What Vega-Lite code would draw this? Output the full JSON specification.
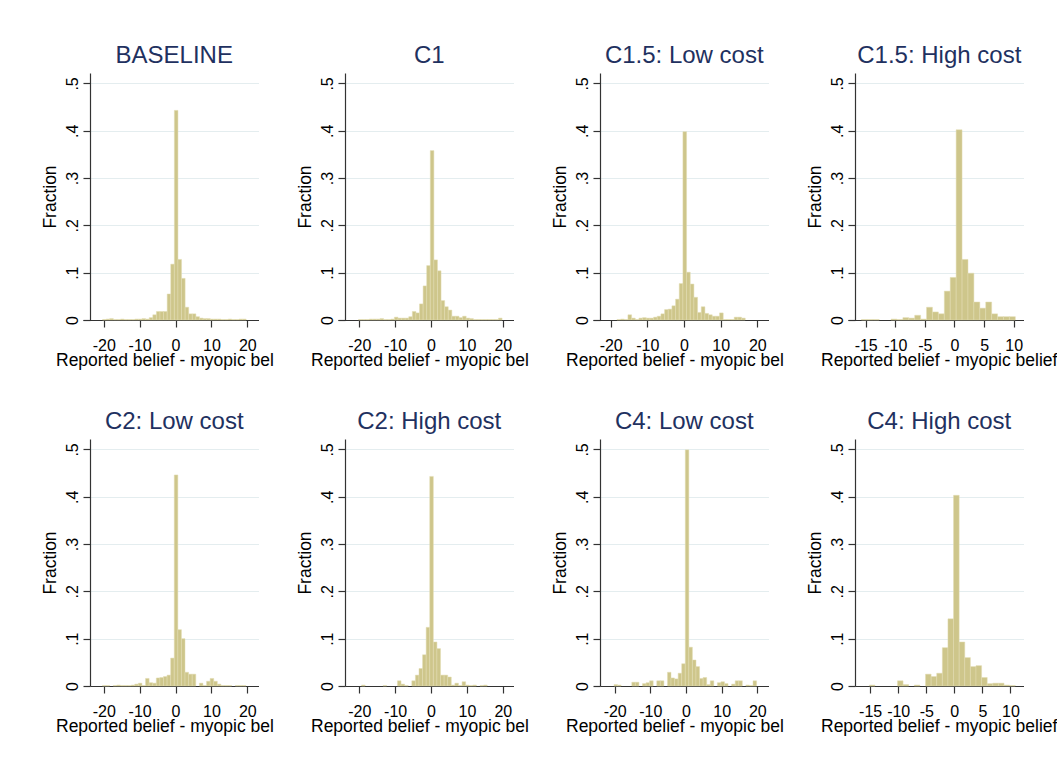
{
  "$schema": "https://vega.github.io/schema/vega-lite/v6.json",
  "padding": {"left": 40, "top": 44, "right": 0, "bottom": 5},
  "background": "white",
  "datasets": {
    "base": [
      {"lo": -20.32, "hi": -19.32, "f": 0.001}, {"lo": -19.32, "hi": -18.32, "f": 0.002}, {"lo": -18.32, "hi": -17.32, "f": 0.003},
      {"lo": -17.32, "hi": -16.32, "f": 0.001}, {"lo": -16.32, "hi": -15.32, "f": 0.001}, {"lo": -15.32, "hi": -14.32, "f": 0.002},
      {"lo": -14.32, "hi": -13.32, "f": 0.001}, {"lo": -13.32, "hi": -12.32, "f": 0.001}, {"lo": -12.32, "hi": -11.32, "f": 0.001},
      {"lo": -11.32, "hi": -10.32, "f": 0.002}, {"lo": -10.32, "hi": -9.32, "f": 0.002}, {"lo": -9.32, "hi": -8.32, "f": 0.003},
      {"lo": -8.32, "hi": -7.32, "f": 0.002}, {"lo": -7.32, "hi": -6.32, "f": 0.005}, {"lo": -6.32, "hi": -5.32, "f": 0.011},
      {"lo": -5.32, "hi": -4.32, "f": 0.018}, {"lo": -4.32, "hi": -3.32, "f": 0.018}, {"lo": -3.32, "hi": -2.32, "f": 0.018},
      {"lo": -2.32, "hi": -1.32, "f": 0.055}, {"lo": -1.32, "hi": -0.32, "f": 0.118}, {"lo": -0.32, "hi": 0.68, "f": 0.443},
      {"lo": 0.68, "hi": 1.68, "f": 0.128}, {"lo": 1.68, "hi": 2.68, "f": 0.088}, {"lo": 2.68, "hi": 3.68, "f": 0.027},
      {"lo": 3.68, "hi": 4.68, "f": 0.013}, {"lo": 4.68, "hi": 5.68, "f": 0.013}, {"lo": 5.68, "hi": 6.68, "f": 0.007},
      {"lo": 6.68, "hi": 7.68, "f": 0.004}, {"lo": 7.68, "hi": 8.68, "f": 0.003}, {"lo": 8.68, "hi": 9.68, "f": 0.003},
      {"lo": 9.68, "hi": 10.68, "f": 0.002}, {"lo": 10.68, "hi": 11.68, "f": 0.002}, {"lo": 11.68, "hi": 12.68, "f": 0.002},
      {"lo": 12.68, "hi": 13.68, "f": 0.001}, {"lo": 13.68, "hi": 14.68, "f": 0.001}, {"lo": 14.68, "hi": 15.68, "f": 0.002},
      {"lo": 15.68, "hi": 16.68, "f": 0.001}, {"lo": 16.68, "hi": 17.68, "f": 0.001}, {"lo": 17.68, "hi": 18.68, "f": 0.002},
      {"lo": 18.68, "hi": 19.68, "f": 0.002}
    ],
    "c1": [
      {"lo": -20.2, "hi": -19.2, "f": 0.001}, {"lo": -19.2, "hi": -18.2, "f": 0.001}, {"lo": -18.2, "hi": -17.2, "f": 0.001},
      {"lo": -17.2, "hi": -16.2, "f": 0.002}, {"lo": -16.2, "hi": -15.2, "f": 0.002}, {"lo": -15.2, "hi": -14.2, "f": 0.002},
      {"lo": -14.2, "hi": -13.2, "f": 0.003}, {"lo": -13.2, "hi": -12.2, "f": 0.001}, {"lo": -12.2, "hi": -11.2, "f": 0.001},
      {"lo": -11.2, "hi": -10.2, "f": 0.002}, {"lo": -10.2, "hi": -9.2, "f": 0.006}, {"lo": -9.2, "hi": -8.2, "f": 0.004},
      {"lo": -8.2, "hi": -7.2, "f": 0.004}, {"lo": -7.2, "hi": -6.2, "f": 0.004}, {"lo": -6.2, "hi": -5.2, "f": 0.007},
      {"lo": -5.2, "hi": -4.2, "f": 0.018}, {"lo": -4.2, "hi": -3.2, "f": 0.015}, {"lo": -3.2, "hi": -2.2, "f": 0.034},
      {"lo": -2.2, "hi": -1.2, "f": 0.072}, {"lo": -1.2, "hi": -0.2, "f": 0.115}, {"lo": -0.2, "hi": 0.8, "f": 0.358},
      {"lo": 0.8, "hi": 1.8, "f": 0.127}, {"lo": 1.8, "hi": 2.8, "f": 0.104}, {"lo": 2.8, "hi": 3.8, "f": 0.041},
      {"lo": 3.8, "hi": 4.8, "f": 0.028}, {"lo": 4.8, "hi": 5.8, "f": 0.021}, {"lo": 5.8, "hi": 6.8, "f": 0.008},
      {"lo": 6.8, "hi": 7.8, "f": 0.008}, {"lo": 7.8, "hi": 8.8, "f": 0.005}, {"lo": 8.8, "hi": 9.8, "f": 0.008},
      {"lo": 9.8, "hi": 10.8, "f": 0.004}, {"lo": 10.8, "hi": 11.8, "f": 0.003}, {"lo": 11.8, "hi": 12.8, "f": 0.001},
      {"lo": 12.8, "hi": 13.8, "f": 0.001}, {"lo": 13.8, "hi": 14.8, "f": 0.001}, {"lo": 14.8, "hi": 15.8, "f": 0.001},
      {"lo": 15.8, "hi": 16.8, "f": 0.001}, {"lo": 16.8, "hi": 17.8, "f": 0.001}, {"lo": 17.8, "hi": 18.8, "f": 0.001},
      {"lo": 18.8, "hi": 19.8, "f": 0.004}
    ],
    "c15l": [
      {"lo": -18.3, "hi": -17.3, "f": 0.001}, {"lo": -17.3, "hi": -16.3, "f": 0.002}, {"lo": -16.3, "hi": -15.3, "f": 0.001},
      {"lo": -15.3, "hi": -14.3, "f": 0.011}, {"lo": -14.3, "hi": -13.3, "f": 0.004}, {"lo": -13.3, "hi": -12.3, "f": 0.001},
      {"lo": -12.3, "hi": -11.3, "f": 0.004}, {"lo": -11.3, "hi": -10.3, "f": 0.005}, {"lo": -10.3, "hi": -9.3, "f": 0.004},
      {"lo": -9.3, "hi": -8.3, "f": 0.004}, {"lo": -8.3, "hi": -7.3, "f": 0.006}, {"lo": -7.3, "hi": -6.3, "f": 0.008},
      {"lo": -6.3, "hi": -5.3, "f": 0.013}, {"lo": -5.3, "hi": -4.3, "f": 0.022}, {"lo": -4.3, "hi": -3.3, "f": 0.023},
      {"lo": -3.3, "hi": -2.3, "f": 0.030}, {"lo": -2.3, "hi": -1.3, "f": 0.044}, {"lo": -1.3, "hi": -0.3, "f": 0.077},
      {"lo": -0.3, "hi": 0.7, "f": 0.398}, {"lo": 0.7, "hi": 1.7, "f": 0.101}, {"lo": 1.7, "hi": 2.7, "f": 0.076},
      {"lo": 2.7, "hi": 3.7, "f": 0.048}, {"lo": 3.7, "hi": 4.7, "f": 0.016}, {"lo": 4.7, "hi": 5.7, "f": 0.028},
      {"lo": 5.7, "hi": 6.7, "f": 0.014}, {"lo": 6.7, "hi": 7.7, "f": 0.011}, {"lo": 7.7, "hi": 8.7, "f": 0.008},
      {"lo": 8.7, "hi": 9.7, "f": 0.008}, {"lo": 9.7, "hi": 10.7, "f": 0.015}, {"lo": 10.7, "hi": 11.7, "f": 0.001},
      {"lo": 11.7, "hi": 12.7, "f": 0.001}, {"lo": 12.7, "hi": 13.7, "f": 0.001}, {"lo": 13.7, "hi": 14.7, "f": 0.006},
      {"lo": 14.7, "hi": 15.7, "f": 0.006}, {"lo": 15.7, "hi": 16.7, "f": 0.004}
    ],
    "c15h": [
      {"lo": -15.72, "hi": -14.72, "f": 0.001}, {"lo": -14.72, "hi": -13.72, "f": 0.001}, {"lo": -13.72, "hi": -12.72, "f": 0.001},
      {"lo": -10.72, "hi": -9.72, "f": 0.002}, {"lo": -9.72, "hi": -8.72, "f": 0.001}, {"lo": -8.72, "hi": -7.72, "f": 0.005},
      {"lo": -7.72, "hi": -6.72, "f": 0.004}, {"lo": -6.72, "hi": -5.72, "f": 0.010}, {"lo": -5.72, "hi": -4.72, "f": 0.002},
      {"lo": -4.72, "hi": -3.72, "f": 0.027}, {"lo": -3.72, "hi": -2.72, "f": 0.017}, {"lo": -2.72, "hi": -1.72, "f": 0.013},
      {"lo": -1.72, "hi": -0.72, "f": 0.061}, {"lo": -0.72, "hi": 0.28, "f": 0.090}, {"lo": 0.28, "hi": 1.28, "f": 0.402},
      {"lo": 1.28, "hi": 2.28, "f": 0.128}, {"lo": 2.28, "hi": 3.28, "f": 0.099}, {"lo": 3.28, "hi": 4.28, "f": 0.038},
      {"lo": 4.28, "hi": 5.28, "f": 0.025}, {"lo": 5.28, "hi": 6.28, "f": 0.038}, {"lo": 6.28, "hi": 7.28, "f": 0.013},
      {"lo": 7.28, "hi": 8.28, "f": 0.007}, {"lo": 8.28, "hi": 9.28, "f": 0.007}, {"lo": 9.28, "hi": 10.28, "f": 0.007}
    ],
    "c2l": [
      {"lo": -20.35, "hi": -19.35, "f": 0.001}, {"lo": -19.35, "hi": -18.35, "f": 0.001}, {"lo": -17.35, "hi": -16.35, "f": 0.001},
      {"lo": -16.35, "hi": -15.35, "f": 0.002}, {"lo": -15.35, "hi": -14.35, "f": 0.001}, {"lo": -14.35, "hi": -13.35, "f": 0.001},
      {"lo": -13.35, "hi": -12.35, "f": 0.001}, {"lo": -12.35, "hi": -11.35, "f": 0.002}, {"lo": -11.35, "hi": -10.35, "f": 0.004},
      {"lo": -10.35, "hi": -9.35, "f": 0.006}, {"lo": -9.35, "hi": -8.35, "f": 0.001}, {"lo": -8.35, "hi": -7.35, "f": 0.016},
      {"lo": -7.35, "hi": -6.35, "f": 0.007}, {"lo": -6.35, "hi": -5.35, "f": 0.006}, {"lo": -5.35, "hi": -4.35, "f": 0.017},
      {"lo": -4.35, "hi": -3.35, "f": 0.018}, {"lo": -3.35, "hi": -2.35, "f": 0.020}, {"lo": -2.35, "hi": -1.35, "f": 0.023},
      {"lo": -1.35, "hi": -0.35, "f": 0.059}, {"lo": -0.35, "hi": 0.65, "f": 0.446}, {"lo": 0.65, "hi": 1.65, "f": 0.119},
      {"lo": 1.65, "hi": 2.65, "f": 0.100}, {"lo": 2.65, "hi": 3.65, "f": 0.029}, {"lo": 3.65, "hi": 4.65, "f": 0.025},
      {"lo": 4.65, "hi": 5.65, "f": 0.025}, {"lo": 6.65, "hi": 7.65, "f": 0.006}, {"lo": 7.65, "hi": 8.65, "f": 0.001},
      {"lo": 8.65, "hi": 9.65, "f": 0.010}, {"lo": 9.65, "hi": 10.65, "f": 0.016}, {"lo": 10.65, "hi": 11.65, "f": 0.010},
      {"lo": 11.65, "hi": 12.65, "f": 0.004}, {"lo": 12.65, "hi": 13.65, "f": 0.001}, {"lo": 13.65, "hi": 14.65, "f": 0.001},
      {"lo": 14.65, "hi": 15.65, "f": 0.001}, {"lo": 16.65, "hi": 17.65, "f": 0.001}, {"lo": 17.65, "hi": 18.65, "f": 0.001},
      {"lo": 18.65, "hi": 19.65, "f": 0.001}
    ],
    "c2h": [
      {"lo": -19.35, "hi": -18.35, "f": 0.002}, {"lo": -13.35, "hi": -12.35, "f": 0.001}, {"lo": -9.35, "hi": -8.35, "f": 0.011},
      {"lo": -8.35, "hi": -7.35, "f": 0.004}, {"lo": -7.35, "hi": -6.35, "f": 0.001}, {"lo": -5.35, "hi": -4.35, "f": 0.011},
      {"lo": -4.35, "hi": -3.35, "f": 0.023}, {"lo": -3.35, "hi": -2.35, "f": 0.037}, {"lo": -2.35, "hi": -1.35, "f": 0.066},
      {"lo": -1.35, "hi": -0.35, "f": 0.124}, {"lo": -0.35, "hi": 0.65, "f": 0.443}, {"lo": 0.65, "hi": 1.65, "f": 0.093},
      {"lo": 1.65, "hi": 2.65, "f": 0.079}, {"lo": 2.65, "hi": 3.65, "f": 0.023}, {"lo": 3.65, "hi": 4.65, "f": 0.023},
      {"lo": 4.65, "hi": 5.65, "f": 0.019}, {"lo": 5.65, "hi": 6.65, "f": 0.002}, {"lo": 6.65, "hi": 7.65, "f": 0.006},
      {"lo": 7.65, "hi": 8.65, "f": 0.001}, {"lo": 8.65, "hi": 9.65, "f": 0.009}, {"lo": 9.65, "hi": 10.65, "f": 0.002},
      {"lo": 10.65, "hi": 11.65, "f": 0.001}, {"lo": 11.65, "hi": 12.65, "f": 0.002}, {"lo": 13.65, "hi": 14.65, "f": 0.001},
      {"lo": 14.65, "hi": 15.65, "f": 0.002}
    ],
    "c4l": [
      {"lo": -20.2, "hi": -19.2, "f": 0.003}, {"lo": -19.2, "hi": -18.2, "f": 0.002}, {"lo": -15.2, "hi": -14.2, "f": 0.008},
      {"lo": -14.2, "hi": -13.2, "f": 0.008}, {"lo": -12.2, "hi": -11.2, "f": 0.005}, {"lo": -11.2, "hi": -10.2, "f": 0.007},
      {"lo": -10.2, "hi": -9.2, "f": 0.011}, {"lo": -8.2, "hi": -7.2, "f": 0.011}, {"lo": -7.2, "hi": -6.2, "f": 0.011},
      {"lo": -5.2, "hi": -4.2, "f": 0.029}, {"lo": -4.2, "hi": -3.2, "f": 0.017}, {"lo": -3.2, "hi": -2.2, "f": 0.015},
      {"lo": -2.2, "hi": -1.2, "f": 0.027}, {"lo": -1.2, "hi": -0.2, "f": 0.047}, {"lo": -0.2, "hi": 0.8, "f": 0.499},
      {"lo": 0.8, "hi": 1.8, "f": 0.082}, {"lo": 1.8, "hi": 2.8, "f": 0.055}, {"lo": 2.8, "hi": 3.8, "f": 0.041},
      {"lo": 3.8, "hi": 4.8, "f": 0.016}, {"lo": 4.8, "hi": 5.8, "f": 0.018}, {"lo": 5.8, "hi": 6.8, "f": 0.003},
      {"lo": 6.8, "hi": 7.8, "f": 0.011}, {"lo": 8.8, "hi": 9.8, "f": 0.007}, {"lo": 9.8, "hi": 10.8, "f": 0.009},
      {"lo": 10.8, "hi": 11.8, "f": 0.005}, {"lo": 12.8, "hi": 13.8, "f": 0.004}, {"lo": 13.8, "hi": 14.8, "f": 0.011},
      {"lo": 14.8, "hi": 15.8, "f": 0.011}, {"lo": 16.8, "hi": 17.8, "f": 0.002}, {"lo": 17.8, "hi": 18.8, "f": 0.001},
      {"lo": 18.8, "hi": 19.8, "f": 0.011}
    ],
    "c4h": [
      {"lo": -15.13, "hi": -14.13, "f": 0.002}, {"lo": -10.13, "hi": -9.13, "f": 0.011}, {"lo": -9.13, "hi": -8.13, "f": 0.003},
      {"lo": -7.13, "hi": -6.13, "f": 0.002}, {"lo": -5.13, "hi": -4.13, "f": 0.025}, {"lo": -4.13, "hi": -3.13, "f": 0.020},
      {"lo": -3.13, "hi": -2.13, "f": 0.027}, {"lo": -2.13, "hi": -1.13, "f": 0.081}, {"lo": -1.13, "hi": -0.13, "f": 0.142},
      {"lo": -0.13, "hi": 0.87, "f": 0.403}, {"lo": 0.87, "hi": 1.87, "f": 0.093}, {"lo": 1.87, "hi": 2.87, "f": 0.060},
      {"lo": 2.87, "hi": 3.87, "f": 0.041}, {"lo": 3.87, "hi": 4.87, "f": 0.043}, {"lo": 4.87, "hi": 5.87, "f": 0.018},
      {"lo": 5.87, "hi": 6.87, "f": 0.005}, {"lo": 6.87, "hi": 7.87, "f": 0.006}, {"lo": 7.87, "hi": 8.87, "f": 0.006},
      {"lo": 8.87, "hi": 9.87, "f": 0.002}, {"lo": 9.87, "hi": 10.87, "f": 0.001}
    ]
  },
  "columns": 4,
  "spacing": {"row": 119, "column": 86},
  "bounds": "flush",
  "align": "all",
  "concat": [
    {
      "title": "BASELINE", "width": 168.5, "height": 247, "data": {"name": "base"},
      "mark": {"type": "rect", "fill": "#cec68b", "stroke": "#e3ddb3", "strokeWidth": 0.5},
      "encoding": {
        "x": {"field": "lo", "type": "quantitative", "scale": {"domain": [-25.77, 23.12], "range": [-7, 168.5], "nice": false, "zero": false},
              "axis": {"values": [-20, -10, 0, 10, 20], "title": "Reported belief - myopic belief", "encoding": {"title": {"ellipsis": {"value": " "}}}}},
        "x2": {"field": "hi"},
        "y": {"field": "f", "type": "quantitative", "scale": {"domain": [0, 0.522], "nice": false}, "axis": {"title": "Fraction"}},
        "y2": {"datum": 0}
      }
    },
    {
      "title": "C1", "width": 168.5, "height": 247, "data": {"name": "c1"},
      "mark": {"type": "rect", "fill": "#cec68b", "stroke": "#e3ddb3", "strokeWidth": 0.5},
      "encoding": {
        "x": {"field": "lo", "type": "quantitative", "scale": {"domain": [-25.91, 22.98], "range": [-7, 168.5], "nice": false, "zero": false},
              "axis": {"values": [-20, -10, 0, 10, 20], "title": "Reported belief - myopic belief", "encoding": {"title": {"ellipsis": {"value": " "}}}}},
        "x2": {"field": "hi"},
        "y": {"field": "f", "type": "quantitative", "scale": {"domain": [0, 0.522], "nice": false}, "axis": {"title": "Fraction"}},
        "y2": {"datum": 0}
      }
    },
    {
      "title": "C1.5: Low cost", "width": 168.5, "height": 247, "data": {"name": "c15l"},
      "mark": {"type": "rect", "fill": "#cec68b", "stroke": "#e3ddb3", "strokeWidth": 0.5},
      "encoding": {
        "x": {"field": "lo", "type": "quantitative", "scale": {"domain": [-24.83, 23.05], "range": [-7, 168.5], "nice": false, "zero": false},
              "axis": {"values": [-20, -10, 0, 10, 20], "title": "Reported belief - myopic belief", "encoding": {"title": {"ellipsis": {"value": " "}}}}},
        "x2": {"field": "hi"},
        "y": {"field": "f", "type": "quantitative", "scale": {"domain": [0, 0.522], "nice": false}, "axis": {"title": "Fraction"}},
        "y2": {"datum": 0}
      }
    },
    {
      "title": "C1.5: High cost", "width": 168.5, "height": 247, "data": {"name": "c15h"},
      "mark": {"type": "rect", "fill": "#cec68b", "stroke": "#e3ddb3", "strokeWidth": 0.5},
      "encoding": {
        "x": {"field": "lo", "type": "quantitative", "scale": {"domain": [-17.99, 11.66], "range": [-7, 168.5], "nice": false, "zero": false},
              "axis": {"values": [-15, -10, -5, 0, 5, 10], "title": "Reported belief - myopic belief", "titleLimit": 300}},
        "x2": {"field": "hi"},
        "y": {"field": "f", "type": "quantitative", "scale": {"domain": [0, 0.522], "nice": false}, "axis": {"title": "Fraction"}},
        "y2": {"datum": 0}
      }
    },
    {
      "title": "C2: Low cost", "width": 168.5, "height": 247, "data": {"name": "c2l"},
      "mark": {"type": "rect", "fill": "#cec68b", "stroke": "#e3ddb3", "strokeWidth": 0.5},
      "encoding": {
        "x": {"field": "lo", "type": "quantitative", "scale": {"domain": [-23.82, 23.12], "nice": false, "zero": false},
              "axis": {"values": [-20, -10, 0, 10, 20], "title": "Reported belief - myopic belief", "encoding": {"title": {"ellipsis": {"value": " "}}}}},
        "x2": {"field": "hi"},
        "y": {"field": "f", "type": "quantitative", "scale": {"domain": [0, 0.522], "nice": false}, "axis": {"title": "Fraction"}},
        "y2": {"datum": 0}
      }
    },
    {
      "title": "C2: High cost", "width": 168.5, "height": 247, "data": {"name": "c2h"},
      "mark": {"type": "rect", "fill": "#cec68b", "stroke": "#e3ddb3", "strokeWidth": 0.5},
      "encoding": {
        "x": {"field": "lo", "type": "quantitative", "scale": {"domain": [-23.96, 22.98], "nice": false, "zero": false},
              "axis": {"values": [-20, -10, 0, 10, 20], "title": "Reported belief - myopic belief", "encoding": {"title": {"ellipsis": {"value": " "}}}}},
        "x2": {"field": "hi"},
        "y": {"field": "f", "type": "quantitative", "scale": {"domain": [0, 0.522], "nice": false}, "axis": {"title": "Fraction"}},
        "y2": {"datum": 0}
      }
    },
    {
      "title": "C4: Low cost", "width": 168.5, "height": 247, "data": {"name": "c4l"},
      "mark": {"type": "rect", "fill": "#cec68b", "stroke": "#e3ddb3", "strokeWidth": 0.5},
      "encoding": {
        "x": {"field": "lo", "type": "quantitative", "scale": {"domain": [-24.12, 23.14], "nice": false, "zero": false},
              "axis": {"values": [-20, -10, 0, 10, 20], "title": "Reported belief - myopic belief", "encoding": {"title": {"ellipsis": {"value": " "}}}}},
        "x2": {"field": "hi"},
        "y": {"field": "f", "type": "quantitative", "scale": {"domain": [0, 0.522], "nice": false}, "axis": {"title": "Fraction"}},
        "y2": {"datum": 0}
      }
    },
    {
      "title": "C4: High cost", "width": 168.5, "height": 247, "data": {"name": "c4h"},
      "mark": {"type": "rect", "fill": "#cec68b", "stroke": "#e3ddb3", "strokeWidth": 0.5},
      "encoding": {
        "x": {"field": "lo", "type": "quantitative", "scale": {"domain": [-17.7, 12.34], "nice": false, "zero": false},
              "axis": {"values": [-15, -10, -5, 0, 5, 10], "title": "Reported belief - myopic belief", "titleLimit": 300}},
        "x2": {"field": "hi"},
        "y": {"field": "f", "type": "quantitative", "scale": {"domain": [0, 0.522], "nice": false}, "axis": {"title": "Fraction"}},
        "y2": {"datum": 0}
      }
    }
  ],
  "config": {
    "font": "Liberation Sans",
    "view": {"stroke": null},
    "axis": {
      "domainColor": "#333333", "domainWidth": 1.2, "tickColor": "#333333", "tickWidth": 1.2, "tickSize": 7,
      "labelColor": "#000000", "titleColor": "#000000", "labelFontSize": 16, "titleFontSize": 17.5,
      "titleFontWeight": "normal", "labelFont": "Liberation Sans", "titleFont": "Liberation Sans",
      "gridColor": "#e4edef", "gridWidth": 1
    },
    "axisX": {
      "grid": false, "labelPadding": 10, "titlePadding": -2, "titleAlign": "left", "titleX": -34.5,
      "titleLimit": 226, "labelFlush": false, "labelOverlap": false,
      "labelExpr": "datum.value < 0 ? '-' + (-datum.value) : '' + datum.value"
    },
    "axisY": {
      "grid": true, "labelAngle": -90, "labelPadding": 3, "titlePadding": 5,
      "values": [0, 0.1, 0.2, 0.3, 0.4, 0.5],
      "labelExpr": "datum.value == 0 ? '0' : substring(format(datum.value, '.1f'), 1)"
    },
    "title": {
      "fontSize": 24, "font": "Liberation Sans", "fontWeight": "normal", "color": "#1f3160",
      "anchor": "middle", "frame": "group", "baseline": "alphabetic", "offset": 5
    }
  }
}
